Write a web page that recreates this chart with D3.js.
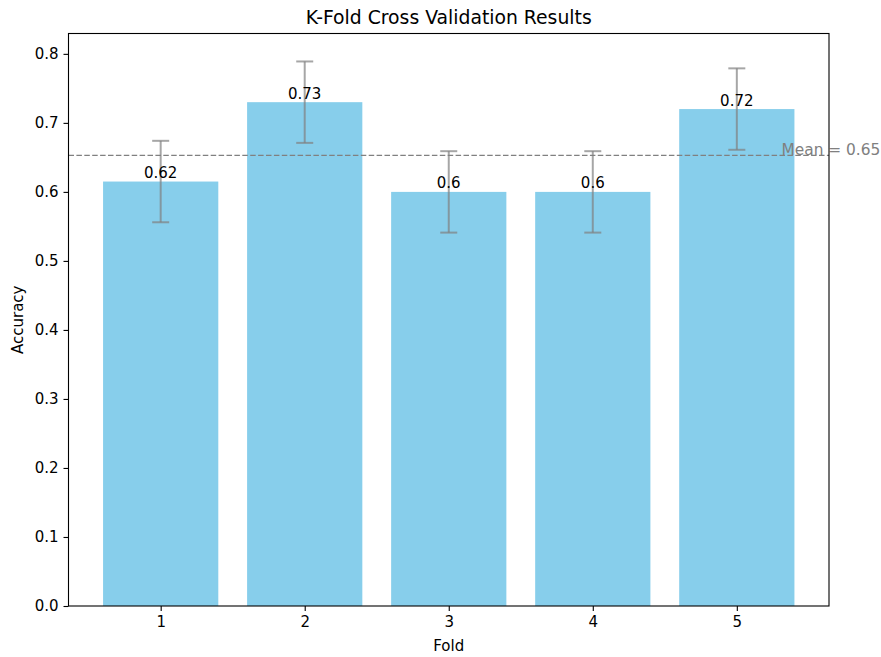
<!DOCTYPE html>
<html>
<head>
<meta charset="utf-8">
<script src="https://cdn.jsdelivr.net/npm/d3@7"></script>
<style>
  html, body { margin: 0; padding: 0; background: #fff; }
  text { font-family: "DejaVu Sans", sans-serif; }
</style>
</head>
<body>
<svg id="chart" width="881" height="657"></svg>
<script>
// Per-fold accuracy, spread, and tick settings
const folds = [1, 2, 3, 4, 5];
const accuracy = [0.615, 0.73, 0.60, 0.60, 0.72];
const accuracyLabels = ["0.62", "0.73", "0.6", "0.6", "0.72"];
const spread = [0.059, 0.059, 0.059, 0.059, 0.059];
const meanAccuracy = 0.653;
const meanLabel = "Mean = 0.65";
const yTicks = [0.0, 0.1, 0.2, 0.3, 0.4, 0.5, 0.6, 0.7, 0.8];

const svg = d3.select("#chart");
const plotL = 68.5, plotR = 829, plotT = 33.5, plotB = 606;

// Continuous x scale in fold units so bars are 0.8 wide with matplotlib-like margins
const x = d3.scaleLinear().domain([0.36, 5.64]).range([plotL, plotR]);
const y = d3.scaleLinear().domain([0, 0.8295]).range([plotB, plotT]);
const barW = 0.8;

// Bars
svg.append("g").selectAll("rect").data(folds).join("rect")
  .attr("x", (d) => x(d - barW / 2))
  .attr("width", (d) => x(d + barW / 2) - x(d - barW / 2))
  .attr("y", (d, i) => y(accuracy[i]))
  .attr("height", (d, i) => y(0) - y(accuracy[i]))
  .attr("fill", "#87CEEB");

// Mean reference line
svg.append("line")
  .attr("x1", plotL).attr("x2", plotR)
  .attr("y1", y(meanAccuracy)).attr("y2", y(meanAccuracy))
  .attr("stroke", "#808080").attr("stroke-width", 1.3)
  .attr("stroke-dasharray", "5.5,2.4");

// Error bars
const eb = svg.append("g").attr("stroke", "#808080").attr("stroke-opacity", 0.7).attr("stroke-width", 2);
folds.forEach((f, i) => {
  const cx = x(f), lo = y(accuracy[i] - spread[i]), hi = y(accuracy[i] + spread[i]);
  eb.append("line").attr("x1", cx).attr("x2", cx).attr("y1", lo).attr("y2", hi);
  eb.append("line").attr("x1", cx - 8.5).attr("x2", cx + 8.5).attr("y1", lo).attr("y2", lo);
  eb.append("line").attr("x1", cx - 8.5).attr("x2", cx + 8.5).attr("y1", hi).attr("y2", hi);
});

// Value labels above bars
svg.append("g").selectAll("text").data(folds).join("text")
  .attr("x", (d) => x(d))
  .attr("y", (d, i) => y(accuracy[i]) - 3.5)
  .attr("text-anchor", "middle")
  .attr("font-size", 15)
  .attr("fill", "#000")
  .text((d, i) => accuracyLabels[i]);

// Mean label
svg.append("text")
  .attr("x", x(5.31))
  .attr("y", y(meanAccuracy))
  .attr("font-size", 15.4)
  .attr("fill", "#808080")
  .text(meanLabel);

// Axes
const xAxis = d3.axisBottom(x).tickValues(folds).tickFormat(d3.format("d")).tickSize(5).tickPadding(5);
const yAxis = d3.axisLeft(y).tickValues(yTicks).tickFormat(d3.format(".1f")).tickSize(5).tickPadding(5);

const gx = svg.append("g").attr("transform", `translate(0,${plotB})`).call(xAxis);
const gy = svg.append("g").attr("transform", `translate(${plotL},0)`).call(yAxis);
[gx, gy].forEach((g) => {
  g.select(".domain").remove();
  g.selectAll(".tick line").attr("stroke", "#000").attr("stroke-width", 1.1);
  g.selectAll(".tick text").attr("font-size", 15).attr("fill", "#000")
    .attr("font-family", "DejaVu Sans, sans-serif");
});

// Frame
svg.append("rect")
  .attr("x", plotL).attr("y", plotT)
  .attr("width", plotR - plotL).attr("height", plotB - plotT)
  .attr("fill", "none").attr("stroke", "#000").attr("stroke-width", 1.1);

// Titles
svg.append("text").attr("x", (plotL + plotR) / 2).attr("y", 23.5)
  .attr("text-anchor", "middle").attr("font-size", 18.8).attr("fill", "#000")
  .text("K-Fold Cross Validation Results");
svg.append("text").attr("x", (plotL + plotR) / 2).attr("y", 651)
  .attr("text-anchor", "middle").attr("font-size", 15).attr("fill", "#000")
  .text("Fold");
svg.append("text")
  .attr("transform", `translate(23,${(plotT + plotB) / 2}) rotate(-90)`)
  .attr("text-anchor", "middle").attr("font-size", 15).attr("fill", "#000")
  .text("Accuracy");
</script>
</body>
</html>
